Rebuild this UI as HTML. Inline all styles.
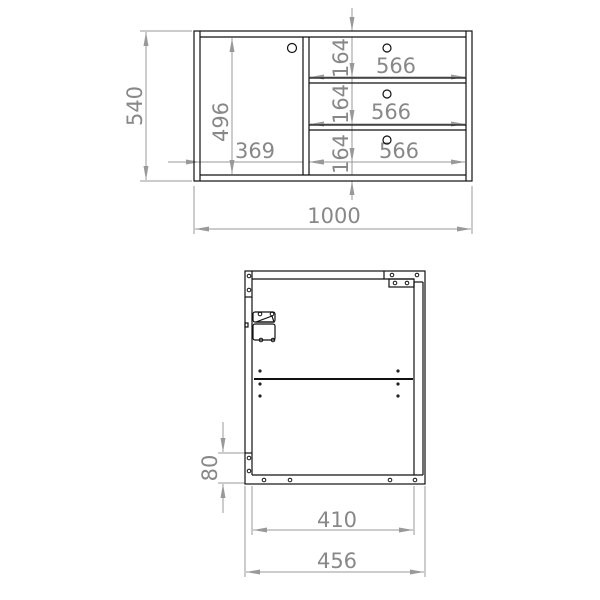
<!DOCTYPE html>
<html><head><style>html,body{margin:0;padding:0;background:#fff}svg{display:block}</style></head>
<body>
<svg width="600" height="600" viewBox="0 0 600 600" xmlns="http://www.w3.org/2000/svg" font-family="'DejaVu Sans','Liberation Sans',sans-serif">
<defs>
<marker id="a" viewBox="0 0 14 6" refX="14" refY="3" markerWidth="14" markerHeight="6" markerUnits="userSpaceOnUse" orient="auto-start-reverse"><path d="M0,0.5 L14,3 L0,5.5 z" fill="#999"/></marker>
</defs>
<g stroke="#999" stroke-width="1" fill="none">
<line x1="140" y1="31" x2="192" y2="31"/><line x1="140" y1="181" x2="192" y2="181"/>
<line x1="146" y1="32" x2="146" y2="180" marker-start="url(#a)" marker-end="url(#a)"/>
<line x1="194" y1="186" x2="194" y2="234"/><line x1="472" y1="186" x2="472" y2="234"/>
<line x1="195" y1="229" x2="471" y2="229" marker-start="url(#a)" marker-end="url(#a)"/>
<line x1="352" y1="8" x2="352" y2="31" marker-end="url(#a)"/>
<line x1="352" y1="181" x2="352" y2="200" marker-start="url(#a)"/>
<line x1="352" y1="37" x2="352" y2="175"/>
<line x1="352" y1="60" x2="352" y2="77" marker-end="url(#a)"/>
<line x1="352" y1="108" x2="352" y2="124" marker-end="url(#a)"/>
<line x1="352" y1="145" x2="352" y2="162" marker-end="url(#a)"/>
<line x1="232" y1="38" x2="232" y2="174" marker-start="url(#a)" marker-end="url(#a)"/>
<line x1="168" y1="162" x2="200" y2="162" marker-end="url(#a)"/>
<line x1="200" y1="162" x2="303" y2="162"/>
<line x1="326" y1="162" x2="309" y2="162" marker-end="url(#a)"/>
<line x1="310" y1="77" x2="465" y2="77" marker-start="url(#a)" marker-end="url(#a)"/>
<line x1="310" y1="124" x2="465" y2="124" marker-start="url(#a)" marker-end="url(#a)"/>
<line x1="310" y1="162" x2="465" y2="162" marker-start="url(#a)" marker-end="url(#a)"/>
<line x1="218" y1="453" x2="245" y2="453"/><line x1="218" y1="483" x2="245" y2="483"/>
<line x1="223" y1="422" x2="223" y2="452" marker-end="url(#a)"/>
<line x1="223" y1="484" x2="223" y2="513" marker-start="url(#a)"/>
<line x1="252" y1="486" x2="252" y2="535"/><line x1="414" y1="486" x2="414" y2="535"/>
<line x1="253" y1="530" x2="413" y2="530" marker-start="url(#a)" marker-end="url(#a)"/>
<line x1="245" y1="486" x2="245" y2="577"/><line x1="425" y1="486" x2="425" y2="577"/>
<line x1="246" y1="572" x2="424" y2="572" marker-start="url(#a)" marker-end="url(#a)"/>
</g>
<g fill="#888" font-size="21">
<text transform="translate(142,106) rotate(-90)" text-anchor="middle">540</text>
<text x="334" y="223" text-anchor="middle">1000</text>
<text transform="translate(228,122) rotate(-90)" text-anchor="middle">496</text>
<text x="255" y="158" text-anchor="middle">369</text>
<text x="396" y="73" text-anchor="middle">566</text>
<text x="391" y="119" text-anchor="middle">566</text>
<text x="399" y="158" text-anchor="middle">566</text>
<text transform="translate(348,58) rotate(-90)" text-anchor="middle">164</text>
<text transform="translate(348,104) rotate(-90)" text-anchor="middle">164</text>
<text transform="translate(348,154) rotate(-90)" text-anchor="middle">164</text>
<text transform="translate(217,468) rotate(-90)" text-anchor="middle">80</text>
<text x="337" y="527" text-anchor="middle">410</text>
<text x="337" y="568" text-anchor="middle">456</text>
</g>
<g stroke="#111" stroke-width="1.2" fill="none">
<rect x="194" y="31" width="278" height="150"/>
<line x1="200" y1="31" x2="200" y2="181"/><line x1="466" y1="31" x2="466" y2="181"/>
<line x1="200" y1="37" x2="466" y2="37"/><line x1="200" y1="175" x2="466" y2="175"/>
<line x1="303" y1="37" x2="303" y2="175"/><line x1="309" y1="37" x2="309" y2="175"/>
<line x1="309" y1="78" x2="466" y2="78"/><line x1="309" y1="83" x2="466" y2="83"/>
<line x1="309" y1="125" x2="466" y2="125"/><line x1="309" y1="130" x2="466" y2="130"/>
<circle cx="292" cy="48" r="4.5"/><circle cx="387" cy="48" r="4"/><circle cx="387" cy="94" r="4"/><circle cx="387" cy="140" r="4"/>
<rect x="245" y="271" width="180" height="213"/>
<line x1="252" y1="271" x2="252" y2="475"/>
<line x1="252" y1="279" x2="414" y2="279"/>
<line x1="252" y1="475" x2="423" y2="475"/>
<line x1="414" y1="282" x2="414" y2="475"/><line x1="423" y1="282" x2="423" y2="475"/>
<line x1="414" y1="282" x2="423" y2="282"/>
<line x1="384" y1="271" x2="384" y2="279"/>
<rect x="389" y="279" width="25" height="8"/>
<line x1="245" y1="297" x2="252" y2="297"/><line x1="245" y1="453" x2="252" y2="453"/>
<line x1="254" y1="379" x2="413" y2="379" stroke-width="2"/>
<rect x="253" y="312" width="22" height="10" rx="2"/>
<rect x="253" y="324" width="22" height="16" rx="2"/>
<path d="M256 322 L272 316 L274 322 Z"/>
<rect x="245" y="323" width="3" height="4"/>
</g>
<g stroke="#111" stroke-width="1" fill="none">
<circle cx="249" cy="276" r="1.8"/><circle cx="249" cy="290" r="1.8"/>
<circle cx="249" cy="458" r="1.8"/><circle cx="249" cy="471" r="1.8"/>
<circle cx="264" cy="480" r="1.8"/><circle cx="290" cy="480" r="1.8"/><circle cx="390" cy="480" r="1.8"/><circle cx="415" cy="480" r="1.8"/>
<circle cx="392" cy="275" r="1.8"/><circle cx="417" cy="275" r="1.8"/><circle cx="395" cy="283" r="1.8"/><circle cx="407" cy="283" r="1.8"/>
<circle cx="260" cy="314" r="1.8"/><circle cx="272" cy="314" r="1.8"/>
<circle cx="261" cy="340" r="1.8"/><circle cx="273" cy="340" r="1.8"/>
</g>
<g fill="#222">
<circle cx="260" cy="371" r="1.6"/><circle cx="398" cy="371" r="1.6"/>
<circle cx="260" cy="384" r="1.6"/><circle cx="398" cy="384" r="1.6"/>
<circle cx="260" cy="396" r="1.6"/><circle cx="398" cy="396" r="1.6"/>
</g>
</svg>
</body></html>
